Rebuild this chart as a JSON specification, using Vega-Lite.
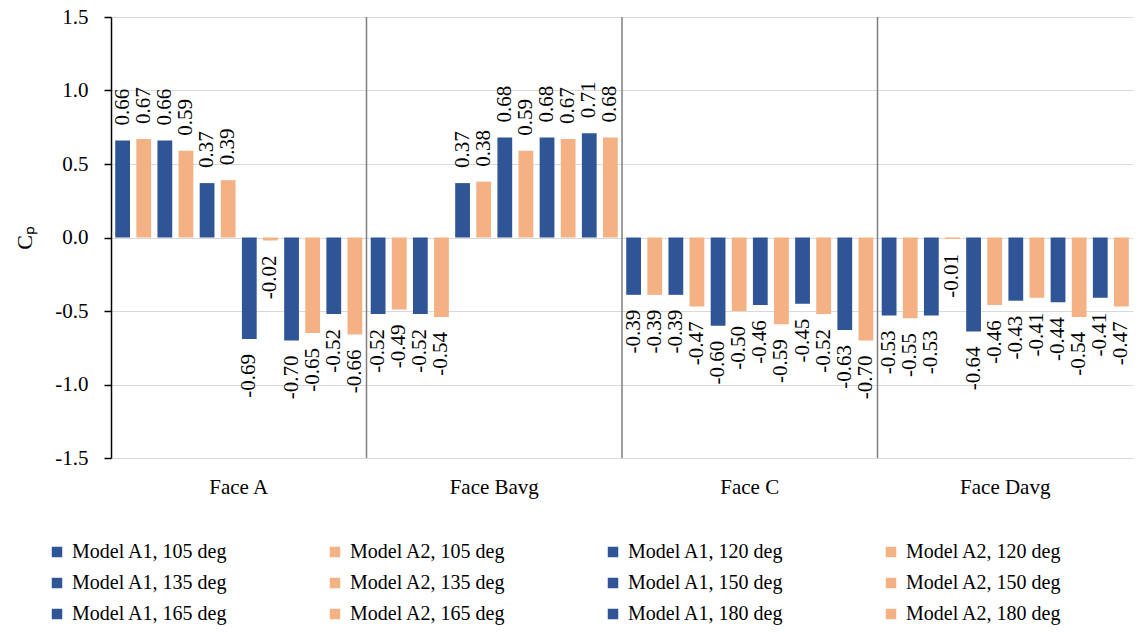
{
  "$schema": "https://vega.github.io/schema/vega-lite/v6.json",
  "width": 1022,
  "height": 441,
  "autosize": {"type": "none"},
  "padding": {"left": 111, "top": 17, "right": 5, "bottom": 174},
  "config": {
    "font": "Liberation Serif",
    "view": {"stroke": null},
    "locale": {"number": {"decimal": ".", "thousands": ",", "grouping": [3], "currency": ["$", ""], "minus": "-"}},
    "axis": {"labelFont": "Liberation Serif", "titleFont": "Liberation Serif", "labelColor": "#000000", "titleColor": "#000000"},
    "axisX": {"title": null, "domain": false, "ticks": false, "labelAngle": 0, "labelFontSize": 21, "labelPadding": 18, "labelBaseline": "top", "grid": false},
    "legend": {"labelFont": "Liberation Serif"}
  },
  "datasets": {
    "cp": [
      {"face": "Face A", "series": "Model A1, 105 deg", "value": 0.66},
      {"face": "Face A", "series": "Model A2, 105 deg", "value": 0.67},
      {"face": "Face A", "series": "Model A1, 120 deg", "value": 0.66},
      {"face": "Face A", "series": "Model A2, 120 deg", "value": 0.59},
      {"face": "Face A", "series": "Model A1, 135 deg", "value": 0.37},
      {"face": "Face A", "series": "Model A2, 135 deg", "value": 0.39},
      {"face": "Face A", "series": "Model A1, 150 deg", "value": -0.69},
      {"face": "Face A", "series": "Model A2, 150 deg", "value": -0.02},
      {"face": "Face A", "series": "Model A1, 165 deg", "value": -0.70},
      {"face": "Face A", "series": "Model A2, 165 deg", "value": -0.65},
      {"face": "Face A", "series": "Model A1, 180 deg", "value": -0.52},
      {"face": "Face A", "series": "Model A2, 180 deg", "value": -0.66},
      {"face": "Face Bavg", "series": "Model A1, 105 deg", "value": -0.52},
      {"face": "Face Bavg", "series": "Model A2, 105 deg", "value": -0.49},
      {"face": "Face Bavg", "series": "Model A1, 120 deg", "value": -0.52},
      {"face": "Face Bavg", "series": "Model A2, 120 deg", "value": -0.54},
      {"face": "Face Bavg", "series": "Model A1, 135 deg", "value": 0.37},
      {"face": "Face Bavg", "series": "Model A2, 135 deg", "value": 0.38},
      {"face": "Face Bavg", "series": "Model A1, 150 deg", "value": 0.68},
      {"face": "Face Bavg", "series": "Model A2, 150 deg", "value": 0.59},
      {"face": "Face Bavg", "series": "Model A1, 165 deg", "value": 0.68},
      {"face": "Face Bavg", "series": "Model A2, 165 deg", "value": 0.67},
      {"face": "Face Bavg", "series": "Model A1, 180 deg", "value": 0.71},
      {"face": "Face Bavg", "series": "Model A2, 180 deg", "value": 0.68},
      {"face": "Face C", "series": "Model A1, 105 deg", "value": -0.39},
      {"face": "Face C", "series": "Model A2, 105 deg", "value": -0.39},
      {"face": "Face C", "series": "Model A1, 120 deg", "value": -0.39},
      {"face": "Face C", "series": "Model A2, 120 deg", "value": -0.47},
      {"face": "Face C", "series": "Model A1, 135 deg", "value": -0.60},
      {"face": "Face C", "series": "Model A2, 135 deg", "value": -0.50},
      {"face": "Face C", "series": "Model A1, 150 deg", "value": -0.46},
      {"face": "Face C", "series": "Model A2, 150 deg", "value": -0.59},
      {"face": "Face C", "series": "Model A1, 165 deg", "value": -0.45},
      {"face": "Face C", "series": "Model A2, 165 deg", "value": -0.52},
      {"face": "Face C", "series": "Model A1, 180 deg", "value": -0.63},
      {"face": "Face C", "series": "Model A2, 180 deg", "value": -0.70},
      {"face": "Face Davg", "series": "Model A1, 105 deg", "value": -0.53},
      {"face": "Face Davg", "series": "Model A2, 105 deg", "value": -0.55},
      {"face": "Face Davg", "series": "Model A1, 120 deg", "value": -0.53},
      {"face": "Face Davg", "series": "Model A2, 120 deg", "value": -0.01},
      {"face": "Face Davg", "series": "Model A1, 135 deg", "value": -0.64},
      {"face": "Face Davg", "series": "Model A2, 135 deg", "value": -0.46},
      {"face": "Face Davg", "series": "Model A1, 150 deg", "value": -0.43},
      {"face": "Face Davg", "series": "Model A2, 150 deg", "value": -0.41},
      {"face": "Face Davg", "series": "Model A1, 165 deg", "value": -0.44},
      {"face": "Face Davg", "series": "Model A2, 165 deg", "value": -0.54},
      {"face": "Face Davg", "series": "Model A1, 180 deg", "value": -0.41},
      {"face": "Face Davg", "series": "Model A2, 180 deg", "value": -0.47}
    ],
    "separators": [
      {"face": "Face Bavg"},
      {"face": "Face C"},
      {"face": "Face Davg"}
    ]
  },
  "layer": [
    {
      "data": {"name": "cp"},
      "mark": {"type": "bar"},
      "encoding": {
        "x": {
          "field": "face", "type": "nominal",
          "scale": {"domain": ["Face A", "Face Bavg", "Face C", "Face Davg"], "paddingInner": 0, "paddingOuter": 0}
        },
        "xOffset": {
          "field": "series", "type": "nominal",
          "scale": {"domain": ["Model A1, 105 deg", "Model A2, 105 deg", "Model A1, 120 deg", "Model A2, 120 deg", "Model A1, 135 deg", "Model A2, 135 deg", "Model A1, 150 deg", "Model A2, 150 deg", "Model A1, 165 deg", "Model A2, 165 deg", "Model A1, 180 deg", "Model A2, 180 deg"], "paddingInner": 0.3, "paddingOuter": 0.2}
        },
        "y": {
          "field": "value", "type": "quantitative",
          "scale": {"domain": [-1.5, 1.5], "nice": false, "zero": false},
          "axis": {"title": "Cₚ", "titleFontSize": 22, "titleFontWeight": "normal", "titlePadding": 18, "values": [-1.5, -1, -0.5, 0, 0.5, 1, 1.5], "format": ".1f", "labelFontSize": 21, "labelPadding": 16, "tickSize": 7, "tickColor": "#000000", "tickWidth": 1.5, "domainColor": "#000000", "domainWidth": 1.5, "gridColor": "#D9D9D9", "gridWidth": 1.2}
        },
        "color": {
          "field": "series", "type": "nominal",
          "scale": {"domain": ["Model A1, 105 deg", "Model A2, 105 deg", "Model A1, 120 deg", "Model A2, 120 deg", "Model A1, 135 deg", "Model A2, 135 deg", "Model A1, 150 deg", "Model A2, 150 deg", "Model A1, 165 deg", "Model A2, 165 deg", "Model A1, 180 deg", "Model A2, 180 deg"],
                    "range": ["#2F5597", "#F4B183", "#2F5597", "#F4B183", "#2F5597", "#F4B183", "#2F5597", "#F4B183", "#2F5597", "#F4B183", "#2F5597", "#F4B183"]},
          "legend": {"title": null, "orient": "none", "legendX": -64, "legendY": 525, "direction": "horizontal", "columns": 4, "symbolType": "square", "symbolSize": 110, "symbolStrokeWidth": 0, "labelFontSize": 20, "labelColor": "#000000", "labelLimit": 300, "labelOffset": 5, "columnPadding": 97, "rowPadding": 11, "padding": 0}
        }
      }
    },
    {
      "data": {"name": "separators"},
      "mark": {"type": "rule", "color": "#7F7F7F", "strokeWidth": 1.5},
      "encoding": {
        "x": {"field": "face", "type": "nominal", "bandPosition": 0}
      }
    },
    {
      "mark": {"type": "rule", "color": "#000000", "strokeWidth": 1.5},
      "encoding": {"y": {"datum": 0}}
    },
    {
      "data": {"name": "cp"},
      "transform": [{"filter": "datum.value >= 0"}],
      "mark": {"type": "text", "angle": 270, "align": "left", "baseline": "middle", "dx": 15, "fontSize": 21, "color": "#000000"},
      "encoding": {
        "x": {"field": "face", "type": "nominal"},
        "xOffset": {"field": "series", "type": "nominal"},
        "y": {"field": "value", "type": "quantitative"},
        "text": {"field": "value", "type": "quantitative", "format": ".2f"}
      }
    },
    {
      "data": {"name": "cp"},
      "transform": [{"filter": "datum.value < 0"}],
      "mark": {"type": "text", "angle": 270, "align": "right", "baseline": "middle", "dx": -15, "fontSize": 21, "color": "#000000"},
      "encoding": {
        "x": {"field": "face", "type": "nominal"},
        "xOffset": {"field": "series", "type": "nominal"},
        "y": {"field": "value", "type": "quantitative"},
        "text": {"field": "value", "type": "quantitative", "format": ".2f"}
      }
    }
  ]
}
